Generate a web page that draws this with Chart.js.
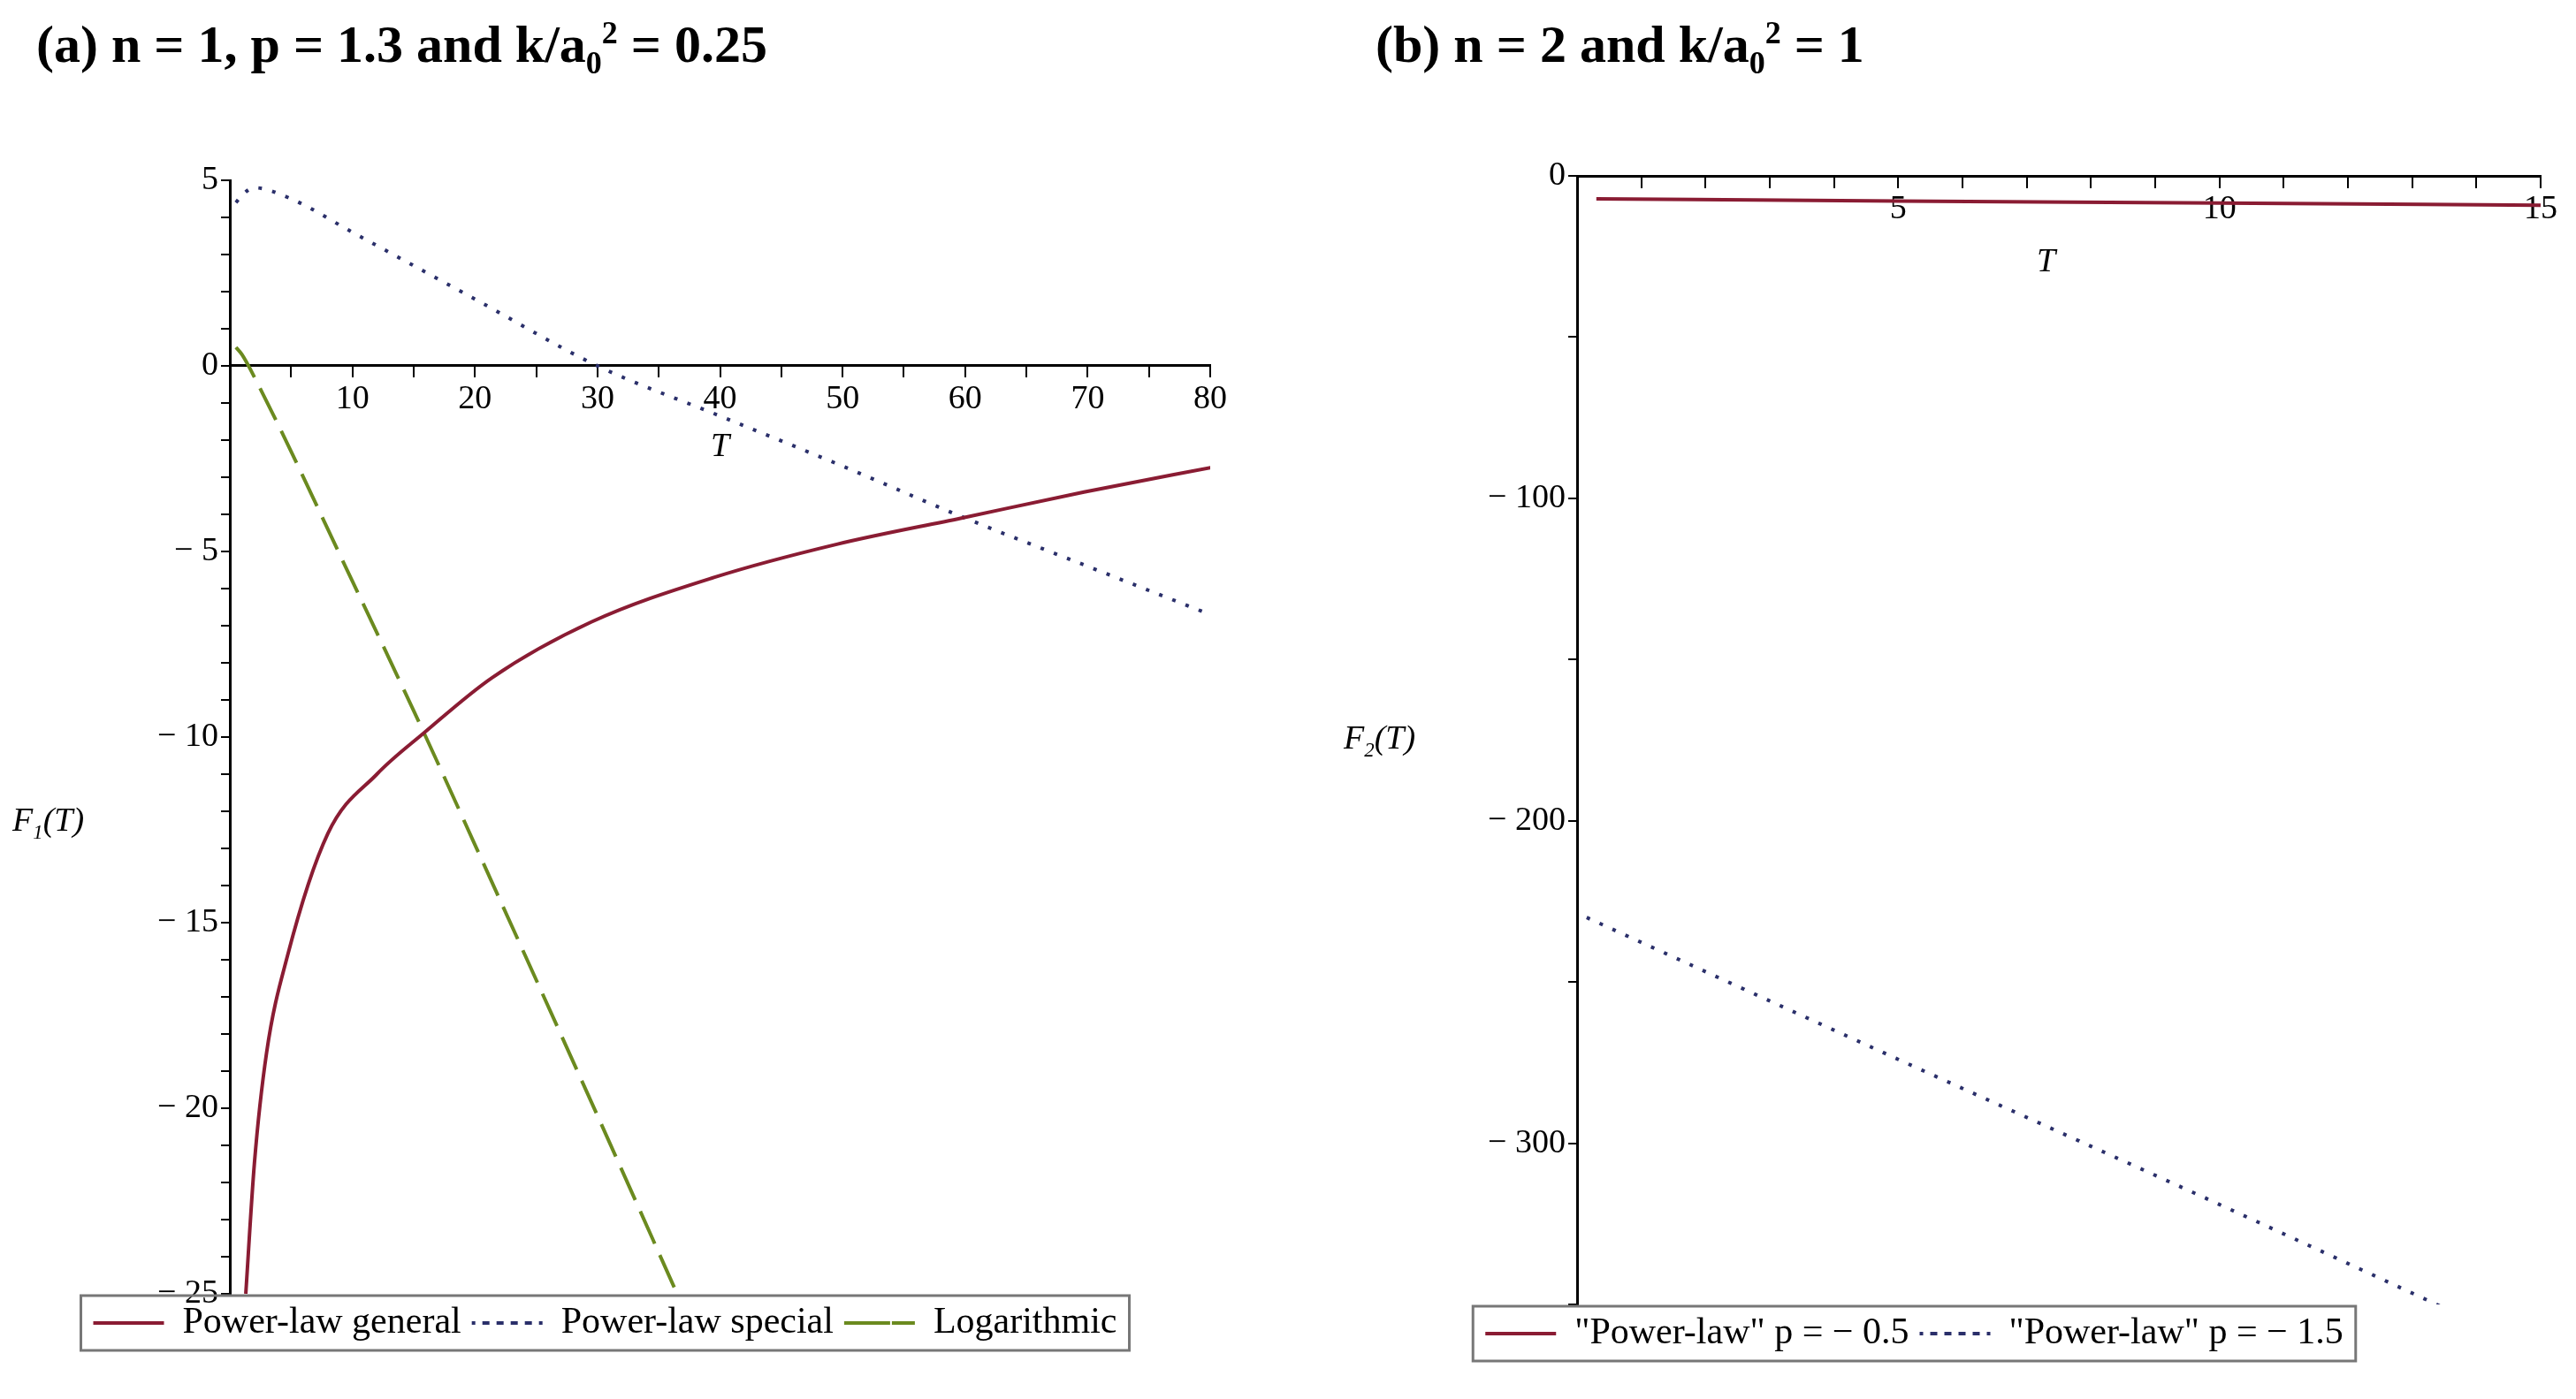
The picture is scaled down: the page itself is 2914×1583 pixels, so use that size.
<!DOCTYPE html>
<html><head><meta charset="utf-8">
<script src="https://cdn.jsdelivr.net/npm/chart.js@4.4.1/dist/chart.umd.min.js"></script>
<style>
body{margin:0;width:2914px;height:1583px;background:#fff;position:relative;overflow:hidden;font-family:"Liberation Serif",serif}
.c{position:absolute;top:0;width:1457px;height:1583px}
.t{position:absolute;font-weight:bold;font-size:60px;white-space:nowrap}
.yl{position:absolute;font-size:38px;font-style:italic;white-space:nowrap}
sub,sup{font-size:0.6em}
</style></head><body>
<div class="c" style="left:0"><canvas id="a"></canvas></div>
<div class="c" style="left:1457px"><canvas id="b"></canvas></div>
<div class="t" style="left:41px;top:16px">(a) n = 1, p = 1.3 and k/a<sub>0</sub><sup>2</sup> = 0.25</div>
<div class="t" style="left:1556px;top:16px">(b) n = 2 and k/a<sub>0</sub><sup>2</sup> = 1</div>
<div class="yl" style="left:14px;top:905px">F<sub>1</sub>(T)</div>
<div class="yl" style="left:1520px;top:812px">F<sub>2</sub>(T)</div>
<script>
// Panel (a)
const genT = [1.3, 2, 3, 4.7, 8, 12, 15.8, 21.4, 29.5, 39.5, 49.6, 59.7, 69.7, 80.7];
const genY = [-25, -21.5, -18.5, -15.9, -12.6, -11, -9.9, -8.4, -6.9, -5.7, -4.8, -4.1, -3.4, -2.7];
const specT = [0.5, 1, 2, 5, 10, 20, 30, 40, 50, 60, 70, 80];
const specY = [4.4, 4.6, 4.8, 4.5, 3.6, 1.8, 0, -1.35, -2.7, -4.1, -5.4, -6.7];
const logT = [0.5, 1, 2, 10, 16, 20, 30, 36.5];
const logY = [0.5, 0.3, -0.3, -5.8, -10, -12.9, -20.2, -25];
// Panel (b)
const p05T = [0.3, 5, 10, 15];
const p05Y = [-7.1, -7.8, -8.4, -9.1];
const p15T = [0.15, 5, 10, 13.6];
const p15Y = [-230, -274, -319, -352];

const xy = (xs, ys) => xs.map((x, i) => ({x, y: ys[i]}));
const FONT = "'Liberation Serif', serif";
const minus = v => (v < 0 ? '\u2212 ' + Math.abs(v) : String(v));

const boxPlugin = {
  id: 'box',
  afterDraw(chart) {
    const L = chart.legend; if (!L || !L.legendHitBoxes.length) return;
    const hb = L.legendHitBoxes;
    const x0 = Math.min(...hb.map(h => h.left)) - 14, x1 = Math.max(...hb.map(h => h.left + h.width)) + 14;
    const y0 = Math.min(...hb.map(h => h.top)) - 10, y1 = Math.max(...hb.map(h => h.top + h.height)) + 10;
    const c = chart.ctx; c.save(); c.strokeStyle = '#777'; c.lineWidth = 3; c.strokeRect(x0, y0, x1 - x0, y1 - y0); c.restore();
  }
};
const tPlugin = (xv, yv) => ({
  id: 'tlab',
  afterDraw(chart) {
    const c = chart.ctx; c.save(); c.font = 'italic 38px ' + FONT; c.fillStyle = '#000'; c.textAlign = 'center';
    c.fillText('T', chart.scales.x.getPixelForValue(xv), chart.scales.y.getPixelForValue(yv));
    c.restore();
  }
});

function mk(id, cfg) {
  const ds = cfg.ds.map(d => Object.assign({showLine: true, pointRadius: 0, borderWidth: 4, fill: false, backgroundColor: 'rgba(0,0,0,0)', cubicInterpolationMode: 'monotone', borderCapStyle: 'butt'}, d));
  return new Chart(document.getElementById(id), {
    type: 'scatter',
    data: {datasets: ds},
    plugins: [boxPlugin, tPlugin(cfg.tx, cfg.ty)],
    options: {
      responsive: false, animation: false, devicePixelRatio: 1,
      layout: {padding: cfg.pad},
      plugins: {
        tooltip: {enabled: false},
        legend: {position: 'bottom', labels: {usePointStyle: false, boxWidth: 80, boxHeight: 0, color: '#000', font: {family: FONT, size: 42}, padding: 12}}
      },
      scales: {
        x: {type: 'linear', position: {y: 0}, min: cfg.xmin, max: cfg.xmax,
            border: {color: '#000', width: 3},
            grid: {drawOnChartArea: false, drawTicks: true, tickLength: 12, color: '#000', lineWidth: 2},
            ticks: {stepSize: cfg.xstep, autoSkip: false, maxRotation: 0, color: '#000', font: {family: FONT, size: 38},
                    callback: v => (v !== 0 && v % cfg.xlab === 0 ? String(v) : '')}},
        y: {type: 'linear', min: cfg.ymin, max: cfg.ymax,
            afterFit: s => { s.width = cfg.yw; },
            border: {color: '#000', width: 3},
            grid: {drawOnChartArea: false, drawTicks: true, tickLength: 10, color: '#000', lineWidth: 2},
            ticks: {stepSize: cfg.ystep, autoSkip: false, color: '#000', font: {family: FONT, size: 38},
                    callback: v => (v % cfg.ylab === 0 ? minus(v) : '')}}
      }
    }
  });
}
document.getElementById('a').width = 1457; document.getElementById('a').height = 1583;
document.getElementById('b').width = 1457; document.getElementById('b').height = 1583;

mk('a', {
  pad: {left: 0, right: 88, top: 204, bottom: 55}, yw: 260,
  xmin: 0, xmax: 80, xstep: 5, xlab: 10, ymin: -25, ymax: 5, ystep: 1, ylab: 5, tx: 40, ty: -2.2,
  ds: [
    {label: 'Power-law general', data: xy(genT, genY), borderColor: '#8a1c33'},
    {label: 'Power-law special', data: xy(specT, specY), borderColor: '#2a2f6a', borderDash: [4, 12]},
    {label: 'Logarithmic', data: xy(logT, logY), borderColor: '#6b8a1f', borderDash: [40, 14]}
  ]
});
mk('b', {
  pad: {left: 0, right: 40, top: 199, bottom: 43}, yw: 327,
  xmin: 0, xmax: 15, xstep: 1, xlab: 5, ymin: -350, ymax: 0, ystep: 50, ylab: 100, tx: 7.3, ty: -27,
  ds: [
    {label: '"Power-law" p = \u2212 0.5', data: xy(p05T, p05Y), borderColor: '#8a1c33'},
    {label: '"Power-law" p = \u2212 1.5', data: xy(p15T, p15Y), borderColor: '#2a2f6a', borderDash: [4, 12]}
  ]
});
</script></body></html>
